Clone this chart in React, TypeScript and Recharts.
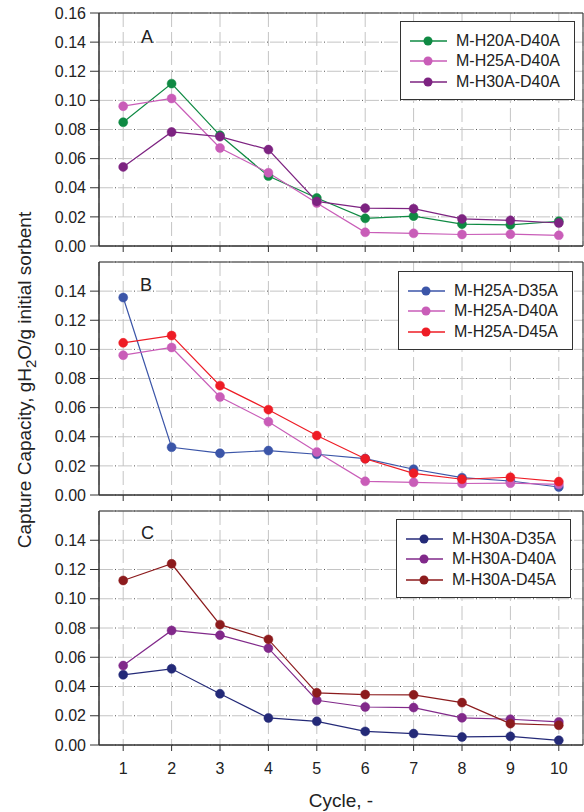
import React from 'react';
import { LineChart, Line, XAxis, YAxis, CartesianGrid, Legend, ReferenceArea } from 'recharts';

const FONT = '"Liberation Sans", Arial, Helvetica, sans-serif';
const TEXT = '#222';
const AXIS = '#333';

const cycles = [1, 2, 3, 4, 5, 6, 7, 8, 9, 10];
const yTicksA = [0, 0.02, 0.04, 0.06, 0.08, 0.1, 0.12, 0.14, 0.16];
const yTicksBC = [0, 0.02, 0.04, 0.06, 0.08, 0.1, 0.12, 0.14];

// Panel A
const h20d40 = [0.085, 0.1115, 0.076, 0.048, 0.033, 0.019, 0.0205, 0.015, 0.0145, 0.017];
const h25d40 = [0.096, 0.1013, 0.0673, 0.0503, 0.0295, 0.0094, 0.0087, 0.0079, 0.0081, 0.0073];
const h30d40 = [0.0543, 0.0783, 0.0751, 0.0662, 0.0306, 0.026, 0.0256, 0.0186, 0.0176, 0.0158];
// Panel B
const h25d35 = [0.1356, 0.0328, 0.0287, 0.0305, 0.028, 0.025, 0.0177, 0.0119, 0.0096, 0.0055];
const h25d45 = [0.1045, 0.1095, 0.0751, 0.0586, 0.0408, 0.0249, 0.0149, 0.0108, 0.0122, 0.0092];
// Panel C
const h30d35 = [0.048, 0.0521, 0.035, 0.0185, 0.0162, 0.0093, 0.0078, 0.0055, 0.0059, 0.0032];
const h30d45 = [0.1125, 0.1239, 0.0823, 0.0722, 0.0357, 0.0345, 0.0343, 0.029, 0.0146, 0.0135];

type Series = { key: string; name: string; color: string; values: number[] };

const seriesA: Series[] = [
  { key: 's1', name: 'M-H20A-D40A', color: '#0f8a43', values: h20d40 },
  { key: 's2', name: 'M-H25A-D40A', color: '#c95db8', values: h25d40 },
  { key: 's3', name: 'M-H30A-D40A', color: '#7d2381', values: h30d40 },
];
const seriesB: Series[] = [
  { key: 's1', name: 'M-H25A-D35A', color: '#3b55a8', values: h25d35 },
  { key: 's2', name: 'M-H25A-D40A', color: '#c95db8', values: h25d40 },
  { key: 's3', name: 'M-H25A-D45A', color: '#ee1c25', values: h25d45 },
];
const seriesC: Series[] = [
  { key: 's1', name: 'M-H30A-D35A', color: '#242a78', values: h30d35 },
  { key: 's2', name: 'M-H30A-D40A', color: '#81298a', values: h30d40 },
  { key: 's3', name: 'M-H30A-D45A', color: '#8c1b1d', values: h30d45 },
];

const buildRows = (series: Series[]) =>
  cycles.map((c, i) => {
    const row: Record<string, number> = { cycle: c };
    series.forEach((s) => {
      row[s.key] = s.values[i];
    });
    return row;
  });

const LegendBox = ({ series }: { series: Series[] }) => (
  <div
    style={{
      border: `1px solid ${AXIS}`,
      background: '#fff',
      padding: '9px 14px 7px 9px',
      fontFamily: FONT,
      fontSize: 16,
      color: TEXT,
    }}
  >
    {series.map((s) => (
      <div key={s.key} style={{ display: 'flex', alignItems: 'center', height: 20.3, whiteSpace: 'nowrap' }}>
        <svg width={37} height={12} style={{ display: 'block' }}>
          <line x1={0} x2={37} y1={6} y2={6} stroke={s.color} strokeWidth={1.5} />
          <circle cx={18} cy={6} r={4.5} fill={s.color} />
        </svg>
        <span style={{ marginLeft: 9 }}>{s.name}</span>
      </div>
    ))}
  </div>
);

type PanelProps = {
  series: Series[];
  top: number;
  height: number;
  marginTop: number;
  xAxisHeight: number;
  showXLabels: boolean;
  yTicks: number[];
  legendTop: number;
  legendRight: number;
  xTitle?: string;
};

const Panel = (p: PanelProps) => {
  const data = buildRows(p.series);
  return (
    <div style={{ position: 'absolute', left: 0, top: p.top }}>
      <LineChart
        width={584}
        height={p.height}
        data={data}
        margin={{ top: p.marginTop, right: 1, bottom: 0, left: 0 }}
      >
        <CartesianGrid stroke="#c4c4c4" strokeDasharray="14 5" strokeWidth={1} />
        <CartesianGrid
          vertical={false}
          stroke="#555"
          strokeDasharray="1 18"
          strokeDashoffset={3}
          strokeWidth={1}
        />
        <XAxis
          type="number"
          dataKey="cycle"
          domain={[0.5, 10.5]}
          ticks={cycles}
          allowDataOverflow
          height={p.xAxisHeight}
          tickSize={6}
          tickMargin={12}
          tickFormatter={(v: number) => (p.showXLabels ? String(v) : '')}
          tick={{ fontSize: 16, fill: TEXT, fontFamily: FONT }}
          axisLine={{ stroke: AXIS }}
          tickLine={{ stroke: AXIS }}
          label={
            p.xTitle
              ? { value: p.xTitle, position: 'insideBottom', offset: 5, fontSize: 19, fill: TEXT, fontFamily: FONT }
              : undefined
          }
        />
        <YAxis
          type="number"
          domain={[0, 0.16]}
          ticks={p.yTicks}
          allowDataOverflow
          width={99}
          tickSize={9}
          tickMargin={4}
          tickFormatter={(v: number) => v.toFixed(2)}
          tick={{ fontSize: 16, fill: TEXT, fontFamily: FONT }}
          axisLine={{ stroke: AXIS }}
          tickLine={{ stroke: AXIS }}
        />
        <ReferenceArea x1={0.5} x2={10.5} y1={0} y2={0.16} fill="none" stroke={AXIS} strokeWidth={1} />
        {p.series.map((s) => (
          <Line
            key={s.key}
            type="linear"
            dataKey={s.key}
            name={s.name}
            stroke={s.color}
            strokeWidth={1.2}
            dot={{ r: 4.5, fill: s.color, stroke: s.color, strokeWidth: 0.5 }}
            activeDot={false}
            isAnimationActive={false}
          />
        ))}
        <Legend
          layout="vertical"
          align="center"
          verticalAlign="middle"
          wrapperStyle={{ top: p.legendTop, right: p.legendRight, left: 'auto', width: 'auto', height: 'auto' }}
          content={() => <LegendBox series={p.series} />}
        />
      </LineChart>
    </div>
  );
};

const PanelLetter = ({ text, left, top }: { text: string; left: number; top: number }) => (
  <div
    style={{
      position: 'absolute',
      left,
      top,
      fontFamily: FONT,
      fontSize: 18,
      lineHeight: 'normal',
      color: TEXT,
    }}
  >
    {text}
  </div>
);

export default function App() {
  return (
    <div
      style={{
        position: 'absolute',
        left: 0,
        top: 0,
        width: 584,
        height: 812,
        background: '#fff',
        fontFamily: FONT,
        overflow: 'hidden',
      }}
    >
      <Panel
        series={seriesA}
        top={0}
        height={256}
        marginTop={13}
        xAxisHeight={10}
        showXLabels={false}
        yTicks={yTicksA}
        legendTop={21}
        legendRight={9}
      />
      <Panel
        series={seriesB}
        top={250}
        height={255}
        marginTop={12}
        xAxisHeight={10}
        showXLabels={false}
        yTicks={yTicksBC}
        legendTop={21}
        legendRight={11}
      />
      <Panel
        series={seriesC}
        top={500}
        height={312}
        marginTop={11}
        xAxisHeight={67}
        showXLabels={true}
        yTicks={yTicksBC}
        legendTop={19}
        legendRight={13}
        xTitle="Cycle, -"
      />
      <PanelLetter text="A" left={141} top={27} />
      <PanelLetter text="B" left={140} top={275} />
      <PanelLetter text="C" left={141} top={523} />
      <svg width={60} height={812} style={{ position: 'absolute', left: 0, top: 0 }}>
        <text
          x={31}
          y={380}
          transform="rotate(-90 31 380)"
          textAnchor="middle"
          fontSize={19}
          fill={TEXT}
          fontFamily={FONT}
        >
          Capture Capacity, gH
          <tspan fontSize={15} dy={5}>2</tspan>
          <tspan dy={-5}>O/g initial sorbent</tspan>
        </text>
      </svg>
    </div>
  );
}
